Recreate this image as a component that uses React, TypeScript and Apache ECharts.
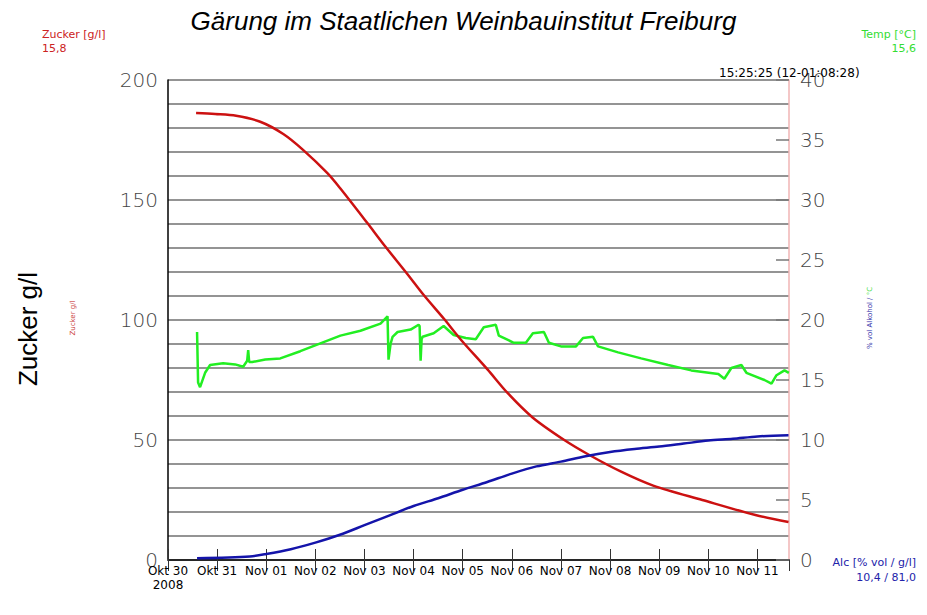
import React, { useEffect, useRef } from "react";
import * as echarts from "echarts";

// ---- data ----
const zuckerTimes = [
  "10-30 13:43", "10-30 23:01", "10-31 09:18", "10-31 21:04", "11-01 08:20", "11-01 18:07",
  "11-02 05:53", "11-02 12:14", "11-03 01:19", "11-03 10:17", "11-03 20:55", "11-04 05:03",
  "11-04 14:50", "11-04 23:01", "11-05 12:06", "11-05 21:54", "11-06 10:08", "11-07 01:37",
  "11-07 13:52", "11-08 05:23", "11-08 21:04", "11-09 21:04", "11-10 23:01", "11-11 15:11",
];
const zuckerValues = [
  186.2, 185.8, 185.1, 182.6, 177.5, 170.8,
  161.2, 154.8, 140.5, 130.5, 119.2, 110.3,
  100.5, 91.9, 79.4, 69.6, 59.4, 50,
  43.75, 36.8, 31, 25, 18.75, 15.8,
];

const alcTimes = [
  "10-30 14:12", "10-31 16:00", "11-01 00:00", "11-01 12:00", "11-02 00:00", "11-02 12:00",
  "11-03 00:00", "11-03 12:00", "11-04 00:00", "11-04 12:00", "11-05 00:00", "11-05 12:00",
  "11-06 00:00", "11-06 12:00", "11-07 00:00", "11-07 12:00", "11-08 00:00", "11-08 12:00",
  "11-09 00:00", "11-09 12:00", "11-10 00:00", "11-10 12:00", "11-11 00:00", "11-11 15:11",
];
const alcValues = [
  0.15, 0.3, 0.5, 0.9, 1.45, 2.1,
  2.9, 3.7, 4.5, 5.15, 5.85, 6.5,
  7.2, 7.8, 8.2, 8.65, 9.0, 9.25,
  9.45, 9.7, 9.95, 10.1, 10.3, 10.4,
];

const tempTimes = [
  "10-30 14:12", "10-30 14:42", "10-30 15:40", "10-30 18:07", "10-30 20:34", "10-31 02:56",
  "10-31 08:49", "10-31 12:44", "10-31 14:41", "10-31 15:11", "10-31 15:40", "10-31 17:09",
  "10-31 23:31", "11-01 06:51", "11-01 16:39", "11-02 02:27", "11-02 12:14", "11-02 22:02",
  "11-03 07:50", "11-03 11:16", "11-03 11:45", "11-03 12:44", "11-03 13:43", "11-03 16:10",
  "11-03 22:32", "11-04 02:27", "11-04 02:56", "11-04 03:26", "11-04 03:55", "11-04 04:25",
  "11-04 09:48", "11-04 14:41", "11-04 19:35", "11-05 01:28", "11-05 06:22", "11-05 10:17",
  "11-05 16:10", "11-05 17:38", "11-06 00:59", "11-06 06:52", "11-06 10:17", "11-06 15:40",
  "11-06 18:07", "11-07 00:00", "11-07 07:21", "11-07 10:47", "11-07 15:40", "11-07 18:07",
  "11-08 03:55", "11-08 15:11", "11-09 04:25", "11-09 15:40", "11-10 04:54", "11-10 07:50",
  "11-10 11:16", "11-10 16:10", "11-10 18:37", "11-11 03:26", "11-11 06:52", "11-11 09:19",
  "11-11 13:13", "11-11 15:20",
];
const tempValues = [
  19.0, 14.8, 14.4, 15.6, 16.25, 16.4,
  16.3, 16.1, 16.6, 17.5, 16.5, 16.5,
  16.7, 16.8, 17.4, 18.05, 18.7, 19.1,
  19.7, 20.3, 16.7, 18.0, 18.6, 19.0,
  19.2, 19.6, 19.5, 16.6, 18.4, 18.6,
  18.9, 19.5, 18.75, 18.5, 18.4, 19.4,
  19.6, 18.7, 18.1, 18.1, 18.9, 19.0,
  18.1, 17.8, 17.8, 18.5, 18.6, 17.8,
  17.3, 16.8, 16.25, 15.8, 15.5, 15.1,
  16.0, 16.25, 15.6, 15.0, 14.7, 15.4,
  15.8, 15.6,
];

const monthNames = ["Jan", "Feb", "Mär", "Apr", "Mai", "Jun", "Jul", "Aug", "Sep", "Okt", "Nov", "Dez"];
const xStart = "10-30 00:00";
const xEnd = "11-11 15:25";

const title = "Gärung im Staatlichen Weinbauinstitut Freiburg";
const timestamp = "15:25:25 (12-01:08:28)";

const DAY = 24 * 3600 * 1000;
const T = (s: string) => {
  const [md, hm] = s.split(" ");
  const [mo, d] = md.split("-").map(Number);
  const [h, mi] = hm.split(":").map(Number);
  return Date.UTC(2008, mo - 1, d, h, mi);
};
const zip = (ts: string[], vs: number[]) => ts.map((t, i) => [T(t), vs[i]]);

const FONT = "'DejaVu Sans', sans-serif";
const THIN = "'DejaVu Sans ExtraLight', 'DejaVu Sans', sans-serif";

export default function App() {
  const ref = useRef<HTMLDivElement>(null);
  useEffect(() => {
    if (!ref.current) return;
    const chart = echarts.init(ref.current, null, { renderer: "svg" });
    const xMin = T(xStart);
    const xMax = T(xEnd) + 25000;
    const option: any = {
      animation: false,
      backgroundColor: "#fff",
      grid: { left: 168, top: 80, width: 621, height: 480, show: false },
      xAxis: [
        {
          type: "value",
          min: xMin,
          max: xMax,
          interval: DAY,
          position: "bottom",
          axisLine: { show: true, lineStyle: { color: "#9a9a9a", width: 2 } },
          axisTick: { show: true, inside: true, length: 11, lineStyle: { color: "#333", width: 1 } },
          axisLabel: {
            show: true,
            showMaxLabel: false,
            margin: 4,
            fontFamily: FONT,
            fontSize: 12,
            color: "#000",
            lineHeight: 14,
            formatter: (v: number) => {
              const d = new Date(v);
              const lbl = monthNames[d.getUTCMonth()] + " " + String(d.getUTCDate()).padStart(2, "0");
              return v === xMin ? lbl + "\n" + d.getUTCFullYear() : lbl;
            },
          },
          splitLine: { show: false },
        },
        {
          type: "value",
          min: xMin,
          max: xMax,
          interval: DAY,
          position: "top",
          axisLine: { show: true, lineStyle: { color: "#000", width: 1.5 } },
          axisTick: { show: true, inside: true, length: 11, lineStyle: { color: "#333", width: 1 } },
          axisLabel: { show: false },
          splitLine: { show: false },
        },
      ],
      yAxis: [
        {
          type: "value",
          min: 0,
          max: 200,
          interval: 10,
          position: "left",
          axisLine: { show: true, lineStyle: { color: "#000", width: 1.5 } },
          axisTick: { show: false },
          axisLabel: {
            margin: 10,
            fontFamily: THIN,
            fontWeight: 200,
            fontSize: 20,
            color: "#444",
            formatter: (v: number) => (v % 50 === 0 ? String(v) : ""),
          },
          splitLine: { show: true, lineStyle: { color: "#707070", width: 1.5 } },
        },
        {
          type: "value",
          min: 0,
          max: 40,
          interval: 5,
          position: "right",
          axisLine: { show: true, lineStyle: { color: "#f0b4b4", width: 1.5 } },
          axisTick: { show: true, inside: true, length: 13, lineStyle: { color: "#777", width: 1.5 } },
          axisLabel: {
            margin: 11,
            fontFamily: THIN,
            fontWeight: 200,
            fontSize: 20,
            color: "#444",
          },
          splitLine: { show: false },
        },
      ],
      series: [
        {
          name: "Temp",
          type: "line",
          xAxisIndex: 0,
          yAxisIndex: 1,
          showSymbol: false,
          data: zip(tempTimes, tempValues),
          lineStyle: { color: "#22ee22", width: 2.5 },
          itemStyle: { color: "#22ee22" },
        },
        {
          name: "Zucker",
          type: "line",
          xAxisIndex: 0,
          yAxisIndex: 0,
          showSymbol: false,
          smooth: 0.3,
          data: zip(zuckerTimes, zuckerValues),
          lineStyle: { color: "#cc1111", width: 2.5 },
          itemStyle: { color: "#cc1111" },
        },
        {
          name: "Alc",
          type: "line",
          xAxisIndex: 0,
          yAxisIndex: 1,
          showSymbol: false,
          smooth: 0.3,
          data: zip(alcTimes, alcValues),
          lineStyle: { color: "#1414aa", width: 2.5 },
          itemStyle: { color: "#1414aa" },
        },
      ],
      graphic: [
        {
          type: "text",
          left: "center",
          top: 8,
          style: {
            text: title,
            font: "italic 26px 'Liberation Sans', Arial, sans-serif",
            fill: "#000",
          },
        },
        {
          type: "text",
          x: 42,
          y: 34,
          style: {
            text: "Zucker [g/l]",
            font: "11px " + FONT,
            fill: "#cc2222",
            textVerticalAlign: "middle",
          },
        },
        {
          type: "text",
          x: 42,
          y: 48,
          style: { text: "15,8", font: "11px " + FONT, fill: "#cc2222", textVerticalAlign: "middle" },
        },
        {
          type: "text",
          x: 916,
          y: 34,
          style: {
            text: "Temp [°C]",
            font: "11px " + FONT,
            fill: "#33dd33",
            textAlign: "right",
            textVerticalAlign: "middle",
          },
        },
        {
          type: "text",
          x: 916,
          y: 48,
          style: { text: "15,6", font: "11px " + FONT, fill: "#33dd33", textAlign: "right", textVerticalAlign: "middle" },
        },
        {
          type: "text",
          x: 916,
          y: 562,
          style: {
            text: "Alc [% vol / g/l]",
            font: "11px " + FONT,
            fill: "#2222aa",
            textAlign: "right",
            textVerticalAlign: "middle",
          },
        },
        {
          type: "text",
          x: 916,
          y: 577,
          style: {
            text: "10,4 / 81,0",
            font: "11px " + FONT,
            fill: "#2222aa",
            textAlign: "right",
            textVerticalAlign: "middle",
          },
        },
        {
          type: "text",
          x: 719,
          y: 73,
          z: 100,
          style: { text: timestamp, font: "12px " + FONT, fill: "#000", textVerticalAlign: "middle" },
        },
        {
          type: "text",
          x: 28,
          y: 329,
          rotation: Math.PI / 2,
          style: {
            text: "Zucker g/l",
            font: "26px 'Liberation Sans', Arial, sans-serif",
            fill: "#000",
            textAlign: "center",
            textVerticalAlign: "middle",
          },
        },
        {
          type: "text",
          x: 73,
          y: 318,
          rotation: Math.PI / 2,
          style: {
            text: "Zucker g/l",
            font: "7px " + FONT,
            fill: "#cc4444",
            textAlign: "center",
            textVerticalAlign: "middle",
          },
        },
        {
          type: "text",
          x: 870,
          y: 318,
          rotation: Math.PI / 2,
          style: {
            text: "{b|% vol Alkohol / }{g|°C}",
            textAlign: "center",
            textVerticalAlign: "middle",
            rich: {
              b: { fontFamily: FONT, fontSize: 7, fill: "#3333aa" },
              g: { fontFamily: FONT, fontSize: 7, fill: "#44dd44" },
            },
          },
        },
      ],
    };
    chart.setOption(option);
    return () => chart.dispose();
  }, []);
  return (
    <div
      ref={ref}
      style={{ position: "fixed", left: 0, top: 0, width: 927, height: 615, background: "#fff" }}
    />
  );
}
